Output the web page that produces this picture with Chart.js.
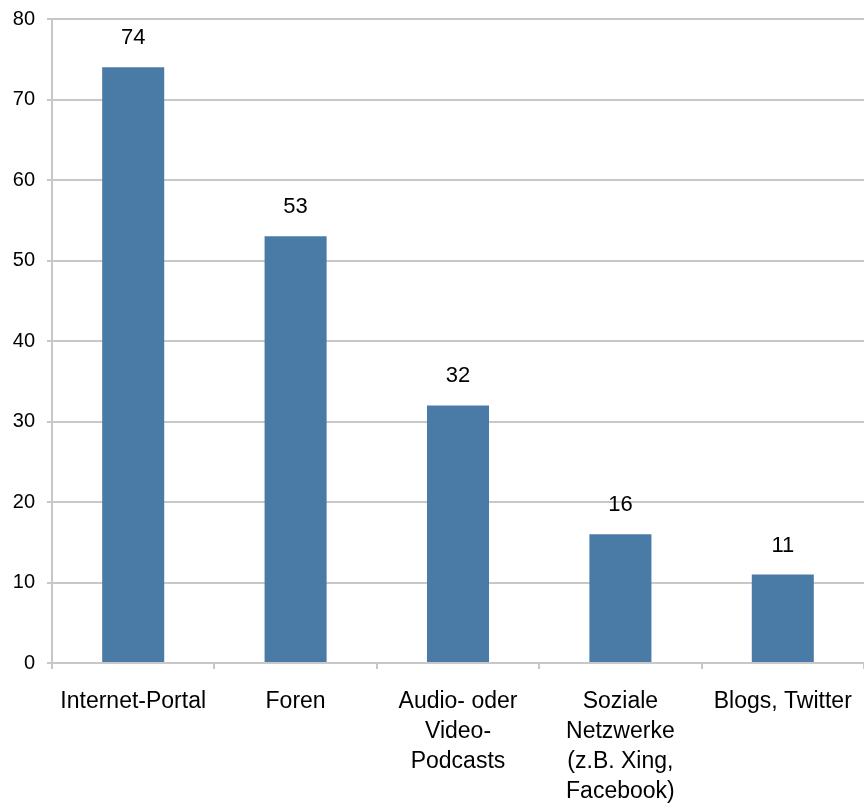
<!DOCTYPE html>
<html>
<head>
<meta charset="utf-8">
<script src="https://cdn.jsdelivr.net/npm/chart.js@4/dist/chart.umd.min.js"></script>
<style>
  html, body { margin: 0; padding: 0; background: #fff; }
  #wrap { width: 864px; height: 809px; position: relative; }
</style>
</head>
<body>
<div id="wrap"><canvas id="chart"></canvas></div>
<script>
// ---------- DATA ----------
const categories = [
  "Internet-Portal",
  "Foren",
  ["Audio- oder", "Video-", "Podcasts"],
  ["Soziale", "Netzwerke", "(z.B. Xing,", "Facebook)"],
  "Blogs, Twitter"
];
const values = [74, 53, 32, 16, 11];
const yTicks = [0, 10, 20, 30, 40, 50, 60, 70, 80];

const FONT = "'Liberation Sans', Arial, sans-serif";
const GRID = "#c8c8c8";

// ---------- VALUE LABELS ----------
const valueLabels = {
  id: "valueLabels",
  afterDatasetsDraw(chart){
    const ctx = chart.ctx;
    const meta = chart.getDatasetMeta(0);
    ctx.save();
    ctx.font = "22px " + FONT;
    ctx.fillStyle = "#000";
    ctx.textAlign = "center";
    ctx.textBaseline = "middle";
    meta.data.forEach((bar, i) => {
      ctx.fillText(String(values[i]), bar.x, bar.y - 29);
    });
    ctx.restore();
  }
};

// ---------- CHART ----------
new Chart(document.getElementById("chart"), {
  type: "bar",
  data: {
    labels: categories,
    datasets: [{
      data: values,
      backgroundColor: "#4a7ba7",
      borderWidth: 0,
      categoryPercentage: 1,
      barPercentage: 0.382
    }]
  },
  options: {
    responsive: true,
    maintainAspectRatio: false,
    animation: false,
    layout: { padding: { top: 19, right: 0, bottom: 0, left: 0 } },
    plugins: { legend: { display: false }, tooltip: { enabled: false } },
    scales: {
      x: {
        offset: true,
        grid: { offset: true, drawOnChartArea: false, drawTicks: true, tickLength: 6, color: GRID, lineWidth: 2 },
        border: { display: true, color: GRID, width: 2 },
        ticks: { color: "#000", font: { family: FONT, size: 23, lineHeight: 1.3 }, padding: 18, maxRotation: 0, autoSkip: false },
        afterFit(axis){ axis.height = 146; axis.paddingLeft = 0; axis.paddingRight = 0; }
      },
      y: {
        min: 0, max: 80,
        afterBuildTicks(axis){ axis.ticks = yTicks.map(v => ({ value: v })); },
        grid: { color: GRID, lineWidth: 2, drawTicks: true, tickLength: 5 },
        border: { display: true, color: GRID, width: 2 },
        ticks: { color: "#000", font: { family: FONT, size: 20 }, padding: 12 },
        afterFit(axis){ axis.width = 52; axis.paddingTop = 0; axis.paddingBottom = 0; }
      }
    }
  },
  plugins: [valueLabels]
});
</script>
</body>
</html>
